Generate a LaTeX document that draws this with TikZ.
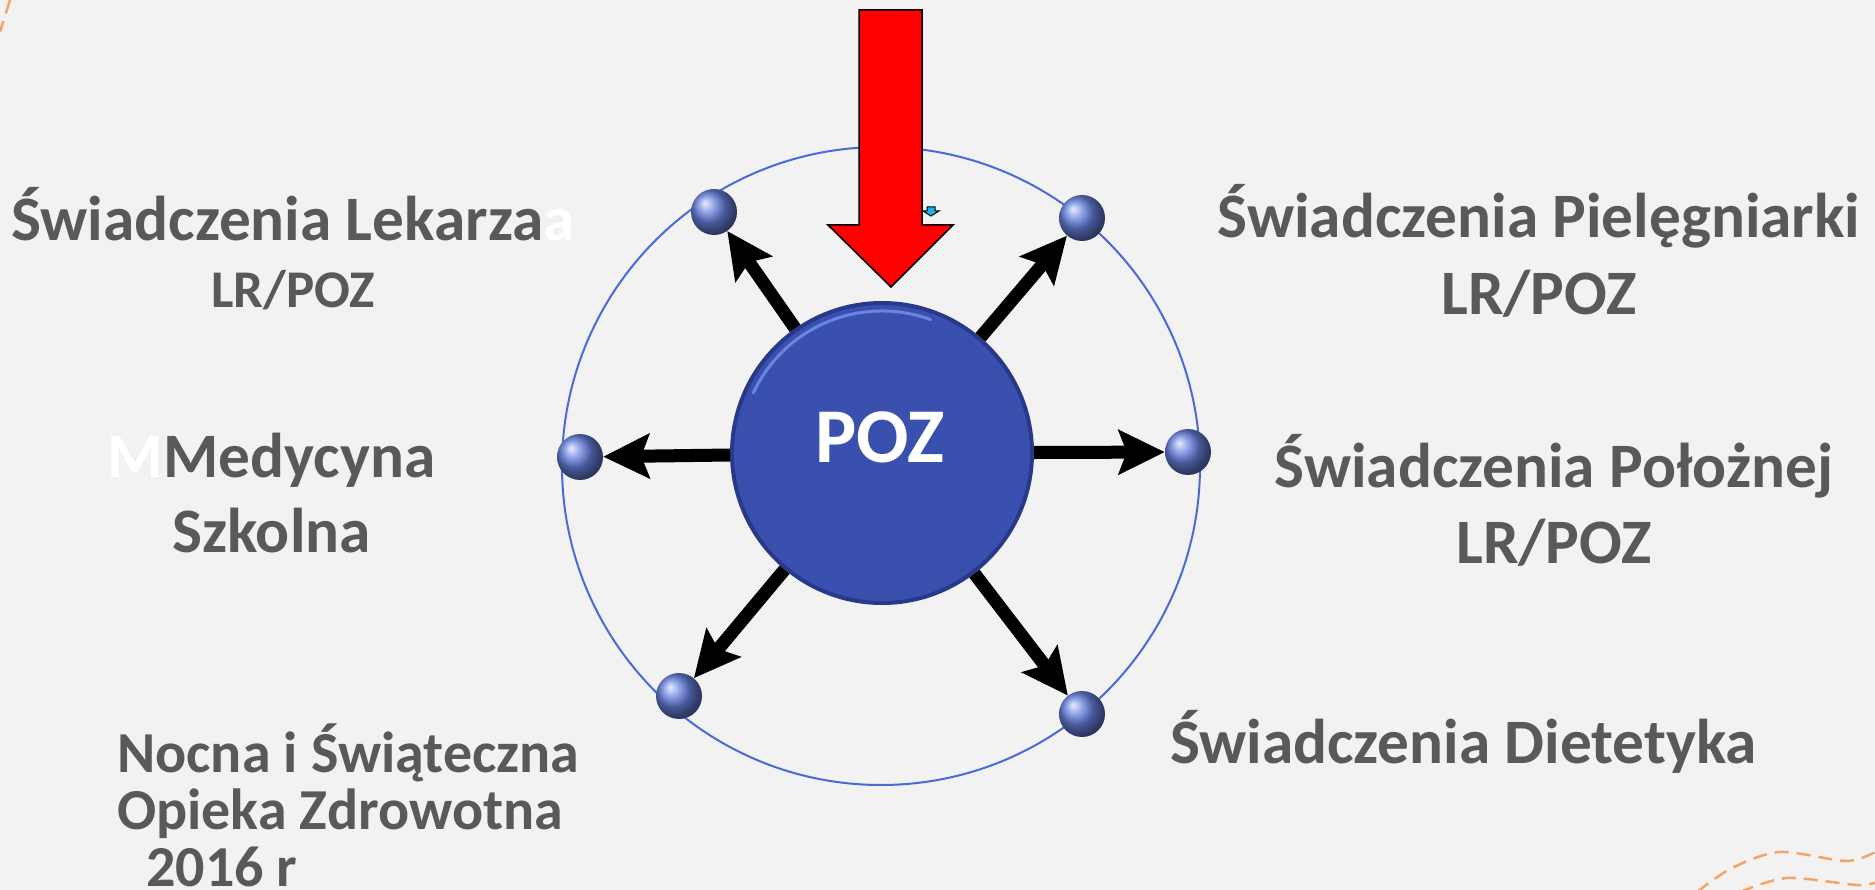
\documentclass[tikz,border=0pt]{standalone}
\usepackage{fontspec}
\setmainfont{Carlito}
\usetikzlibrary{arrows.meta}
\definecolor{bggray}{HTML}{F2F2F2}
\definecolor{txtgray}{HTML}{595959}
\definecolor{pozblue}{HTML}{3A50AE}
\definecolor{pozrim}{HTML}{28398A}
\definecolor{pozlight}{HTML}{6A84E0}
\definecolor{ringblue}{HTML}{4A6AD6}
\definecolor{ballblue}{HTML}{6680DD}
\definecolor{dashorange}{HTML}{F4A468}
\definecolor{tipcyan}{HTML}{1CB0F0}
\tikzset{
  lbl/.style={text=txtgray, font=\bfseries\fontsize{63.3}{77}\selectfont, align=center, anchor=base, inner sep=0pt},
  ball/.style={circle, minimum size=46pt, inner sep=0pt, ball color=ballblue},
  conn/.style={line width=13pt, -{Stealth[length=46pt,width=44pt,inset=8pt]}},
  deco/.style={dashorange, line width=2.5pt, dash pattern=on 14pt off 8pt}
}

\begin{document}
\begin{tikzpicture}[x=1pt,y=-1pt]
\useasboundingbox[fill=bggray] (0,0) rectangle (1875,890);
% orange corner lines
\draw[deco] (10,0)--(0,32);
\draw[deco] plot[smooth] coordinates {(1697,892) (1732,868) (1780,852) (1847,861) (1877,851)};
\draw[deco] plot[smooth] coordinates {(1740,892) (1787,878) (1857,885) (1877,882)};
% ring and balls
\coordinate (ctr) at (881,466);
\draw[ringblue, line width=2pt] (ctr) circle[radius=319];
\node[ball] (blek) at (714,212) {};
\node[ball] (bpie) at (1082,218) {};
\node[ball] (bmed) at (580,457) {};
\node[ball] (bpol) at (1188,452) {};
\node[ball] (bnoc) at (679,696) {};
\node[ball] (bdie) at (1082,714) {};
\node[circle, minimum size=300pt, fill=pozblue, draw=pozrim, line width=4pt] (poz) at (882,453) {};
\foreach \b in {blek,bpie,bmed,bpol,bnoc,bdie}
  \draw[conn] (poz) -- (\b);
\draw[pozlight, line width=3pt, line cap=round] (poz.center) ++(205:142) arc[start angle=205, end angle=290, radius=142];
\node[text=white, font=\bfseries\fontsize{77.5}{78}\selectfont, anchor=base, inner sep=0pt] (pozt) at (880,463) {POZ};
% red arrow
\draw[fill=red, line width=1.5pt, line join=miter] (859,10) -- (922,10) -- (922,225) -- (953,225) -- (891,287) -- (828,225) -- (859,225) -- cycle;
\draw[fill=tipcyan, line width=1pt] (927,207) -- (935,207) -- (935,211) -- (939,211) -- (931,216) -- (923,211) -- (927,211) -- cycle;
% labels
\node[lbl, font=\bfseries\fontsize{63.3}{67}\selectfont] (lek) at (293,308) {Świadczenia Lekarza{\color{white}a}\\{\fontsize{53}{67}\selectfont LR/POZ}};
\node[lbl] (pie) at (1539,315) {Świadczenia Pielęgniarki\\LR/POZ};
\node[lbl, font=\bfseries\fontsize{63.3}{76}\selectfont] (pol) at (1554,563) {Świadczenia Położnej\\LR/POZ};
\node[lbl, font=\bfseries\fontsize{63.3}{75}\selectfont] (med) at (271.5,552) {{\color{white}M}Medycyna\\Szkolna};
\node[lbl, anchor=base west, align=left, font=\bfseries\fontsize{58}{57}\selectfont] (noc) at (117,886) {Nocna i Świąteczna\\Opieka Zdrowotna\\\hspace*{29pt}2016 r};
\node[lbl] (die) at (1463.5,763) {Świadczenia Dietetyka};
\end{tikzpicture}
\end{document}
